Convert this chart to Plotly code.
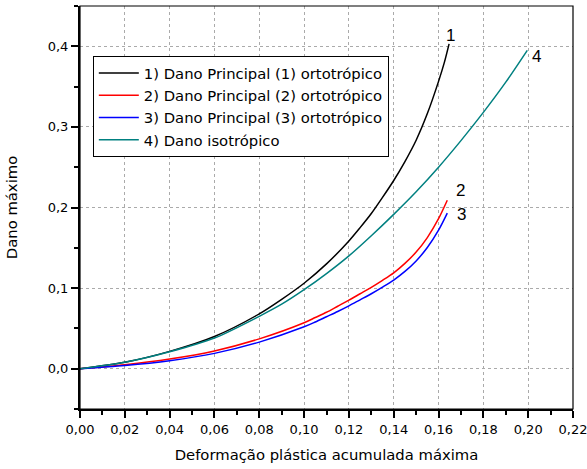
import plotly.graph_objects as go

# Curve data
x1 = [0.0, 0.02, 0.04, 0.06, 0.08, 0.09, 0.10, 0.11, 0.12, 0.125, 0.13, 0.135, 0.14, 0.145, 0.15, 0.155, 0.16, 0.1626, 0.1647]
y1 = [0.0, 0.008, 0.0215, 0.040, 0.068, 0.086, 0.106, 0.130, 0.1585, 0.175, 0.1925, 0.2125, 0.2335, 0.257, 0.2835, 0.3165, 0.3565, 0.380, 0.403]

x2 = [0.0, 0.02, 0.04, 0.06, 0.08, 0.10, 0.105, 0.11, 0.115, 0.12, 0.125, 0.13, 0.135, 0.14, 0.145, 0.15, 0.155, 0.16, 0.1639]
y2 = [0.0, 0.005, 0.012, 0.022, 0.037, 0.057, 0.0635, 0.070, 0.0775, 0.085, 0.093, 0.101, 0.1097, 0.119, 0.1307, 0.1447, 0.1627, 0.1861, 0.209]

x3 = [0.0, 0.02, 0.04, 0.06, 0.08, 0.10, 0.105, 0.11, 0.115, 0.12, 0.125, 0.13, 0.135, 0.14, 0.145, 0.15, 0.155, 0.16, 0.1639]
y3 = [0.0, 0.004, 0.010, 0.019, 0.033, 0.052, 0.058, 0.0645, 0.071, 0.078, 0.0855, 0.093, 0.1012, 0.110, 0.1207, 0.1337, 0.1503, 0.1718, 0.193]

x4 = [0.0, 0.02, 0.04, 0.06, 0.08, 0.09, 0.10, 0.11, 0.12, 0.13, 0.14, 0.15, 0.16, 0.17, 0.18, 0.19, 0.1996]
y4 = [0.0, 0.008, 0.021, 0.038, 0.065, 0.080, 0.098, 0.118, 0.140, 0.165, 0.1915, 0.2195, 0.250, 0.283, 0.318, 0.3555, 0.395]

names = ["1) Dano Principal (1) ortotrópico", "2) Dano Principal (2) ortotrópico",
         "3) Dano Principal (3) ortotrópico", "4) Dano isotrópico"]
colors = ["#000000", "#ff0000", "#0000ff", "#008080"]

label_text = ["1", "2", "3", "4"]
label_x = [0.1652, 0.1700, 0.1702, 0.2035]
label_y = [0.413, 0.221, 0.191, 0.387]

x_ticks = [0.0, 0.02, 0.04, 0.06, 0.08, 0.10, 0.12, 0.14, 0.16, 0.18, 0.20, 0.22]
y_ticks = [0.0, 0.1, 0.2, 0.3, 0.4]

xs = [x1, x2, x3, x4]
ys = [y1, y2, y3, y4]

FONT = "DejaVu Sans"

fig = go.Figure()
for xv, yv, nm, c in zip(xs, ys, names, colors):
    fig.add_trace(go.Scatter(x=xv, y=yv, mode="lines", name=nm,
                             line=dict(color=c, width=1.5, shape="spline", smoothing=0.8)))

for t, lx, ly in zip(label_text, label_x, label_y):
    fig.add_annotation(x=lx, y=ly, text=t, showarrow=False,
                       font=dict(family="Liberation Sans", size=17, color="black"))

fig.add_shape(type="rect", xref="paper", yref="paper", x0=0, y0=0, x1=1, y1=1,
              line=dict(color="black", width=1.2), layer="above")

fig.update_layout(
    width=587, height=469,
    margin=dict(l=80, r=14, t=6, b=60),
    paper_bgcolor="white", plot_bgcolor="white",
    separators=",.",
    font=dict(family=FONT, size=13, color="black"),
    showlegend=True,
    legend=dict(x=0.026, y=0.876, xanchor="left", yanchor="top",
                bgcolor="white", bordercolor="black", borderwidth=1,
                font=dict(family=FONT, size=14.8, color="black"),
                itemwidth=40, tracegroupgap=0),
    xaxis=dict(range=[0, 0.22], tickvals=x_ticks, tickformat=".2f", automargin=False,
               ticklabeloverflow="allow",
               showline=True, linecolor="black", linewidth=2,
               ticks="outside", ticklen=7, tickwidth=1.5, tickcolor="black",
               minor=dict(dtick=0.01, ticks="outside", ticklen=4, tickwidth=1.5, tickcolor="black", showgrid=False),
               showgrid=True, gridcolor="#aaaaaa", griddash="dot", gridwidth=1,
               zeroline=False,
               title=dict(text="Deformação plástica acumulada máxima", font=dict(size=14.8), standoff=14),
               tickfont=dict(size=13)),
    yaxis=dict(range=[-0.05, 0.45], tickvals=y_ticks, tickformat=".1f", automargin=False,
               showline=True, linecolor="black", linewidth=2,
               ticks="outside", ticklen=7, tickwidth=1.5, tickcolor="black",
               minor=dict(tickvals=[-0.05, 0.05, 0.15, 0.25, 0.35, 0.45], ticks="outside", ticklen=4, tickwidth=1.5, tickcolor="black", showgrid=False),
               showgrid=True, gridcolor="#aaaaaa", griddash="dot", gridwidth=1,
               zeroline=False,
               title=dict(text="Dano máximo", font=dict(size=14.8), standoff=27),
               tickfont=dict(size=13)),
)

fig.write_html("out.html", config={"displayModeBar": False},
               post_script="document.body.style.margin='0';")
